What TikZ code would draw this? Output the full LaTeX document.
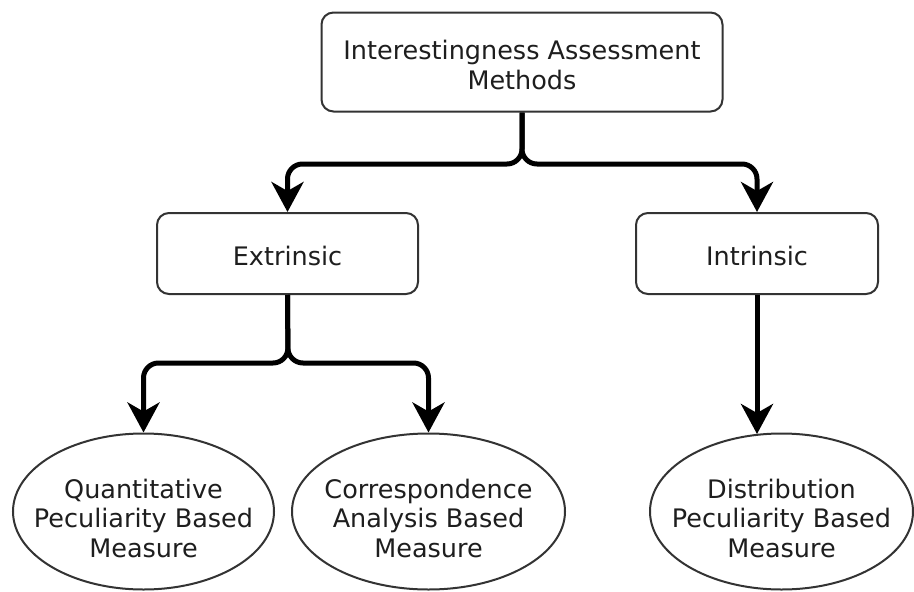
\documentclass[tikz,border=0pt]{standalone}
\usepackage{fontspec}
\setmainfont{DejaVu Sans}
\usetikzlibrary{arrows.meta,shapes.geometric}
\definecolor{edgegray}{HTML}{333333}
\definecolor{txt}{HTML}{1E1E1E}
\tikzset{
  txtfont/.style={text=txt, align=center, font=\fontsize{25.5}{29.5}\selectfont},
  box/.style={draw=edgegray, line width=2pt, rounded corners=12pt, fill=white,
    inner sep=0pt, txtfont},
  oval/.style={ellipse, draw=edgegray, line width=2pt, fill=white, inner sep=0pt},
  ovaltext/.style={txtfont, inner sep=0pt},
  conn/.style={line width=5pt, black, rounded corners=15pt,
    -{Stealth[length=30pt,width=32pt,inset=9pt]}},
}
\begin{document}
\begin{tikzpicture}[x=1pt,y=-1pt]
\useasboundingbox (0,0) rectangle (914,592);
\node[box, minimum width=401pt, minimum height=99pt] (t) at (522,62) {};
\node[txtfont, inner sep=0pt] (tt) at (522,65) {Interestingness Assessment\\Methods};
\node[box, minimum width=261pt, minimum height=81pt] (e) at (287.5,253.5) {};
\node[txtfont, inner sep=0pt] (et) at (287.5,256) {Extrinsic};
\node[box, minimum width=242pt, minimum height=81pt] (i) at (757,253.5) {};
\node[txtfont, inner sep=0pt] (it) at (757,256) {Intrinsic};
\node[oval, minimum width=261pt, minimum height=156pt] (q) at (143.5,511.5) {};
\node[ovaltext] (qt) at (143.5,518) {Quantitative\\Peculiarity Based\\Measure};
\node[oval, minimum width=273pt, minimum height=156pt] (c) at (428.5,511.5) {};
\node[ovaltext] (ct) at (428.5,518) {Correspondence\\Analysis Based\\Measure};
\node[oval, minimum width=263pt, minimum height=156pt] (d) at (781.5,511.5) {};
\node[ovaltext] (dtx) at (781.5,518) {Distribution\\Peculiarity Based\\Measure};
\coordinate (j1) at (522,164);
\coordinate (j2) at (288,363);
\coordinate (dt) at (757,434);
\draw[conn] (t.south) -- (j1) -| (e.north);
\draw[conn] (t.south) -- (j1) -| (i.north);
\draw[conn] (e.south) -- (j2) -| (q.north);
\draw[conn] (e.south) -- (j2) -| (c.north);
\draw[conn] (i.south) -- (dt);
\end{tikzpicture}
\end{document}
